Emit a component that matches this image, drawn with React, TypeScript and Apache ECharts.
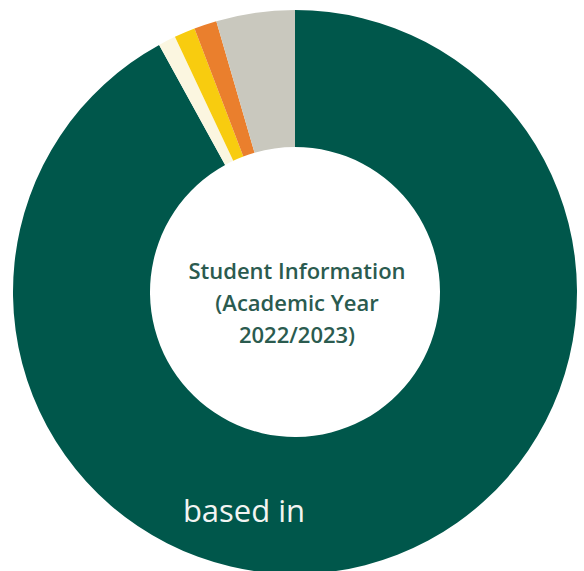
import React, { useEffect, useRef } from "react";
import * as echarts from "echarts";

const categories = ["Main", "Other A", "Other B", "Other C", "Other D"];
const values = [92.0, 1.0, 1.2, 1.3, 4.5];
const colors = ["#00574B", "#FBF6E0", "#F8CC0F", "#EA7F2D", "#C9C8BE"];
const centerLines = ["Student Information", "(Academic Year", "2022/2023)"];
const ringLabel = "based in";

export default function App() {
  const ref = useRef<HTMLDivElement>(null);
  useEffect(() => {
    if (!ref.current) return;
    const chart = echarts.init(ref.current, null, { renderer: "svg" });
    chart.setOption({
      animation: false,
      backgroundColor: "#ffffff",
      series: [
        {
          type: "pie",
          center: [295, 292],
          radius: [145, 282],
          startAngle: 90,
          clockwise: true,
          label: { show: false },
          labelLine: { show: false },
          emphasis: { disabled: true },
          data: categories.map((c, i) => ({
            name: c,
            value: values[i],
            itemStyle: { color: colors[i] },
          })),
        },
      ],
      graphic: [
        ...centerLines.map((t, i) => ({
          type: "text",
          z: 100,
          x: 297,
          y: 270 + i * 32,
          style: {
            text: t,
            fill: "#2B5B4F",
            font: "600 22px 'Open Sans', sans-serif",
            textAlign: "center",
            textVerticalAlign: "middle",
          },
        })),
        {
          type: "text",
          z: 100,
          x: 244,
          y: 510,
          style: {
            text: ringLabel,
            fill: "#F2F4F2",
            font: "400 31px 'Open Sans', sans-serif",
            textAlign: "center",
            textVerticalAlign: "middle",
          },
        },
      ],
    });
    return () => chart.dispose();
  }, []);
  return (
    <div
      ref={ref}
      style={{ position: "fixed", left: 0, top: 0, width: 584, height: 571 }}
    />
  );
}
